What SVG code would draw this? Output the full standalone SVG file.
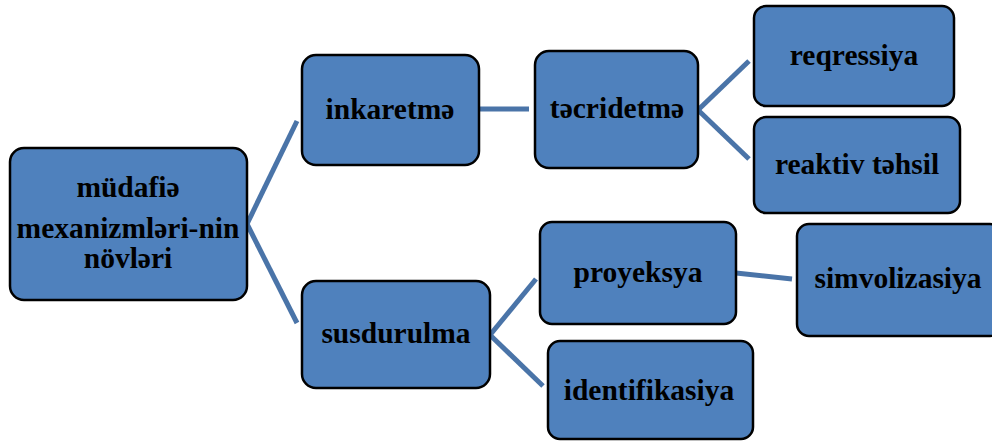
<svg xmlns="http://www.w3.org/2000/svg" width="992" height="441" viewBox="0 0 992 441">
<style>
.box{fill:#4f81bd;stroke:#000;stroke-width:2.5}
.t{font-family:"Liberation Serif","Times New Roman","DejaVu Serif",serif;font-weight:bold;font-size:29.5px;fill:#000;text-anchor:middle}
.c{stroke:#4a74a8;stroke-width:5;fill:none}
</style>
<rect width="992" height="441" fill="#fff"/>
<g id="connectors">
<line class="c" x1="247" y1="224" x2="297" y2="121"/>
<line class="c" x1="247" y1="224" x2="297" y2="323"/>
<line class="c" x1="479" y1="109" x2="529" y2="109"/>
<line class="c" x1="698" y1="110" x2="749" y2="61"/>
<line class="c" x1="698" y1="110" x2="749" y2="159"/>
<line class="c" x1="490" y1="335" x2="536" y2="279"/>
<line class="c" x1="490" y1="335" x2="543" y2="386"/>
<line class="c" x1="736" y1="273" x2="792" y2="279"/>
</g>
<g id="root">
<rect class="box" x="10" y="148" width="237" height="152" rx="14"/>
<text class="t" x="128" y="197">müdafiə</text>
<text class="t" x="128" y="238">mexanizmləri-nin</text>
<text class="t" x="128" y="268">növləri</text>
</g>
<g id="inkaretme">
<rect class="box" x="302" y="55" width="177" height="110" rx="14"/>
<text class="t" x="390" y="119">inkaretmə</text>
</g>
<g id="tecridetme">
<rect class="box" x="535" y="51" width="163" height="117" rx="14"/>
<text class="t" x="617" y="118">təcridetmə</text>
</g>
<g id="reqressiya">
<rect class="box" x="754" y="6" width="200" height="100" rx="12"/>
<text class="t" x="854" y="65">reqressiya</text>
</g>
<g id="reaktiv">
<rect class="box" x="754" y="117" width="206" height="96" rx="12"/>
<text class="t" x="857" y="174">reaktiv təhsil</text>
</g>
<g id="susdurulma">
<rect class="box" x="302" y="281" width="188" height="107" rx="14"/>
<text class="t" x="396" y="343">susdurulma</text>
</g>
<g id="proyeksya">
<rect class="box" x="540" y="222" width="196" height="102" rx="12"/>
<text class="t" x="638" y="282">proyeksya</text>
</g>
<g id="identifikasiya">
<rect class="box" x="548" y="341" width="205" height="98" rx="12"/>
<text class="t" x="649" y="400">identifikasiya</text>
</g>
<g id="simvolizasiya">
<rect class="box" x="797" y="224" width="205" height="112" rx="12"/>
<text class="t" x="898" y="288">simvolizasiya</text>
</g>
</svg>
